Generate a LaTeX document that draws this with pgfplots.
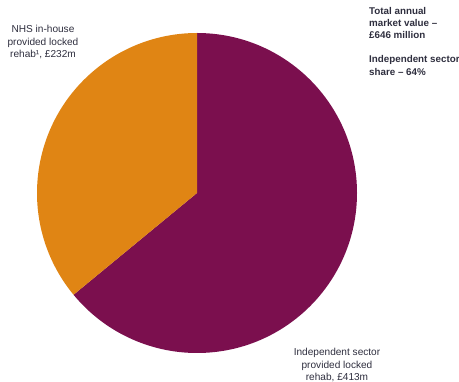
\documentclass[border=0pt]{standalone}
\usepackage{pgfplots}
\usepackage{pgfplotstable}
\pgfplotsset{compat=1.18}
\usepackage{fontspec}
\setmainfont{Liberation Sans}
\definecolor{piepurple}{HTML}{7B0F4E}
\definecolor{pieorange}{HTML}{E08514}
\definecolor{txt}{HTML}{2E2E3E}
\pgfplotstableread{
label value
NHS 232
Independent 413
}\piedata
\begin{document}
\begin{tikzpicture}
\pgfplotstablegetelem{0}{value}\of\piedata \let\vNHS\pgfplotsretval
\pgfplotstablegetelem{1}{value}\of\piedata \let\vIND\pgfplotsretval
\pgfmathsetmacro\indfrac{\vIND/(\vNHS+\vIND)}
\pgfmathsetmacro\angB{90-360*\indfrac}
\begin{axis}[
  scale only axis, width=459bp, height=382bp,
  xmin=0, xmax=459, ymin=0, ymax=382,
  hide axis, clip=false,
]
\coordinate (SW) at (rel axis cs:0,0);
\coordinate (NE) at (rel axis cs:1,1);
\fill[piepurple] (axis cs:197,189) -- ++(90:160bp) arc[start angle=90, end angle=\angB, radius=160bp] -- cycle;
\fill[pieorange] (axis cs:197,189) -- ++(\angB:160bp) arc[start angle=\angB, end angle=-270, radius=160bp] -- cycle;
\node[font=\fontsize{10.1bp}{12.4bp}\selectfont, text=txt, align=center, inner sep=0pt] at (axis cs:43,340) {NHS in-house\\provided locked\\rehab¹, £232m};
\node[font=\fontsize{10.1bp}{12.2bp}\selectfont, text=txt, align=center, inner sep=0pt] at (axis cs:337,17) {Independent sector\\provided locked\\rehab, £413m};
\node[font=\fontsize{9.8bp}{12.2bp}\selectfont\bfseries, text=txt, align=left, anchor=north west, inner sep=0pt] at (axis cs:369,375) {Total annual\\market value –\\£646 million\\[12bp]Independent sector\\share – 64\%};
\end{axis}
\pgfresetboundingbox
\useasboundingbox (SW) rectangle (NE);
\end{tikzpicture}
\end{document}
